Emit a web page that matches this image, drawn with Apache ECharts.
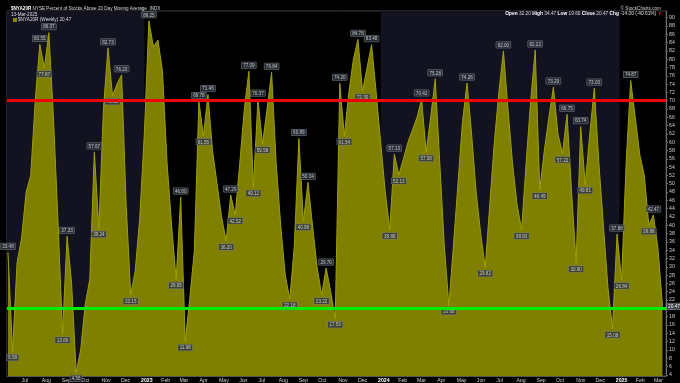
<!DOCTYPE html>
<html><head><meta charset="utf-8">
<script src="https://cdn.jsdelivr.net/npm/echarts@6/dist/echarts.min.js"></script>
<style>html,body{margin:0;padding:0;background:#000;}#c{width:680px;height:383px;}</style>
</head><body><div id="c"></div>
<script>
// ---- data ----
const firstWeek = '2022-06-10';   // weekly bars (Fridays)
const values = [
 33.48, 9.58, 31, 37, 48, 52, 70, 83.55, 77.87, 86.37,
 66, 41, 13.80, 37.33, 26, 4.56, 10, 21, 27, 57.67,
 39.24, 68, 82.73, 71.23, 74, 76.23, 45, 23.15, 29, 42,
 62, 89.25, 83, 84.6, 77, 55, 40, 26.95, 46.80, 11.98,
 22.4, 33.8, 69.78, 61.55, 71.46, 58, 50, 42, 36.20, 47.29,
 42.52, 55, 68, 77.09, 49.12, 70.37, 59.58, 68, 76.84, 55,
 40, 28, 22.18, 35, 60.89, 40.98, 50.34, 40, 30, 23.22,
 29.70, 24, 17.50, 74.20, 61.54, 72, 80, 84.78, 72.30, 78,
 83.48, 72, 60, 48, 38.88, 57.13, 52.13, 56, 60, 63,
 66, 70.42, 57.58, 66, 75.28, 55, 35, 20.68, 35, 50,
 65, 74.26, 62, 48, 38, 29.82, 45, 60, 72, 82.00,
 68, 55, 45, 38.83, 55, 70, 82.22, 48.49, 58, 66,
 73.29, 62, 57.22, 66.75, 48, 30.90, 63.74, 49.81, 62, 73.03,
 55, 40, 25, 15.08, 37.88, 26.84, 55, 74.87, 66, 57,
 52, 39.98, 42.47, 34.47, 20.47
];
const yTicks = [4,6,8,10,12,14,16,18,20,22,24,26,28,30,32,34,36,38,40,42,44,46,48,50,52,54,56,58,60,62,64,66,68,70,72,74,76,78,80,82,84,86,88,90];
const overbought = 70, oversold = 20;
const monthNames = ['Jan','Feb','Mar','Apr','May','Jun','Jul','Aug','Sep','Oct','Nov','Dec'];
const quote = {open:'32.20', high:'34.47', low:'19.60', close:'20.47', chg:'-14.00', pct:'-40.61%'};
const titleText = 'NYSE Percent of Stocks Above 20 Day Moving Average  INDX';
const symbolName = '$NYA20R';
const dateText = '13-Mar-2025';
const credit = '© StockCharts.com';

// ---- derived ----
const DAY = 86400000;
const t0 = Date.parse(firstWeek + 'T00:00:00Z');
const dates = values.map((v,i)=> t0 + i*7*DAY);
const tLast = dates[dates.length-1];
const lastVal = values[values.length-1];
const xMin = t0 - 1.5*DAY, xMax = tLast + 5.4*DAY;
const monthStarts = [];
{
  let d = new Date(t0); let y = d.getUTCFullYear(), m = d.getUTCMonth()+1;
  while (true) { const t = Date.UTC(y,m,1); if (t > tLast) break; monthStarts.push(t); m++; if (m>11){m=0;y++;} }
}
function firstBarOfYear(y){ return dates.find(t => new Date(t).getUTCFullYear() === y); }
const shade = [
  [{xAxis:xMin},{xAxis:firstBarOfYear(2023)}],
  [{xAxis:firstBarOfYear(2024)},{xAxis:firstBarOfYear(2025) + 4*DAY}]
];
// annotate swing highs / lows (ignore tiny wiggles)
const peaks = [], troughs = [];
values.forEach((v,i)=>{
  if (i===values.length-1) return;
  const p = i>0 ? values[i-1] : null, n = values[i+1];
  const dp = p===null ? Infinity : Math.abs(v-p), dn = Math.abs(v-n);
  if (Math.min(dp,dn) < 2) return;
  const hi = (p===null||v>p) && v>n;
  const lo = (p===null||v<p) && v<n;
  if (hi) peaks.push([dates[i], v]);
  else if (lo) troughs.push([dates[i], v]);
});
const lblBase = {show:true, fontSize:4.6, color:'#e6e6e6', backgroundColor:'#2d333c', borderColor:'#7d838b', borderWidth:0.5, padding:[1,1.5,0,1.5], fontFamily:'Liberation Sans, Arial'};

const chart = echarts.init(document.getElementById('c'), null, {renderer:'canvas'});
chart.setOption({
  useUTC: true,
  animation: false,
  backgroundColor: '#000',
  textStyle: {fontFamily: 'Liberation Sans, Arial'},
  title: [{
    left: 6, top: 1,
    text: '{b|' + symbolName + '} ' + titleText + '\n' + dateText,
    textStyle: {fontSize: 4.6, color: '#dcdcdc', lineHeight: 5.5, fontWeight: 'normal',
      rich: {b: {fontWeight: 'bold', fontSize: 4.6, color: '#fff'}}}
  }, {
    right: 14, top: 1,
    text: credit,
    textStyle: {fontSize: 4.7, color: '#cfcfcf', fontWeight: 'normal'}
  }, {
    right: 13, top: 6.5,
    text: '{k|Open} ' + quote.open + ' {k|High} ' + quote.high + ' {k|Low} ' + quote.low +
          ' {k|Close} ' + quote.close + ' {k|Chg} ' + quote.chg + ' (' + quote.pct + ') {r|▼}',
    textStyle: {fontSize: 4.8, color: '#dcdcdc', fontWeight: 'normal',
      rich: {k: {fontWeight: 'bold', fontSize: 4.8, color: '#fff'}, r: {color: '#e00', fontSize: 4.5}}}
  }],
  legend: {
    left: 8, top: 12.5, itemWidth: 4, itemHeight: 4, icon: 'rect', itemGap: 2,
    data: [symbolName + ' (Weekly)'],
    formatter: n => n + ' ' + lastVal.toFixed(2),
    textStyle: {fontSize: 4.7, color: '#dcdcdc', padding: [0,0,0,-4]}
  },
  grid: {left: 7, right: 14, top: 11, bottom: 7, show: true, borderColor: '#3c4048', borderWidth: 1, backgroundColor: '#000'},
  xAxis: {
    type: 'value', min: xMin, max: xMax,
    axisLine: {show: true, lineStyle: {color: '#555'}},
    axisTick: {show: false},
    splitLine: {show: false},
    axisLabel: {
      customValues: monthStarts, align: 'left', fontSize: 5.2, color: '#cfcfcf', margin: 2,
      formatter: v => { const d = new Date(v); const m = d.getUTCMonth(); return m === 0 ? '{y|' + d.getUTCFullYear() + '}' : monthNames[m]; },
      rich: {y: {fontWeight: 'bold', fontSize: 5.2, color: '#fff'}}
    }
  },
  yAxis: {
    type: 'value', position: 'right', min: 3.7, max: 91.6,
    axisLine: {show: true, lineStyle: {color: '#6a6f78'}},
    axisTick: {show: true, customValues: yTicks, length: 2, lineStyle: {color: '#6a6f78'}},
    splitLine: {show: false},
    axisLabel: {customValues: yTicks, fontSize: 5.2, color: '#cfcfcf', margin: 3}
  },
  series: [
    { // year shading
      type: 'line', data: [], z: 1, silent: true,
      markArea: {silent: true, itemStyle: {color: '#121221'}, data: shade}
    },
    {
      name: symbolName + ' (Weekly)', type: 'line', z: 2,
      data: dates.map((t,i)=>[t, values[i]]),
      symbol: 'none', color: '#8a8a00',
      lineStyle: {color: '#a0a000', width: 1},
      areaStyle: {color: '#7f7f00', opacity: 1}
    },
    { // reference lines + last value tag
      type: 'line', data: [], z: 3, silent: true,
      markLine: {silent: true, symbol: 'none',
        data: [
          {yAxis: overbought, label: {show: false}, lineStyle: {color: '#ee0000', width: 3, type: 'solid'}},
          {yAxis: oversold, label: {show: false}, lineStyle: {color: '#00ee00', width: 3, type: 'solid'}},
          {yAxis: lastVal, lineStyle: {color: 'rgba(0,0,0,0)', width: 0},
           label: {show: true, position: 'end', distance: 1, fontSize: 4.8, color: '#fff', backgroundColor: '#3a3f47', borderColor: '#9a9ea6', borderWidth: 0.5, padding: [1,1,0,1],
             formatter: lastVal.toFixed(2)}}
        ]}
    },
    {type: 'scatter', z: 4, data: peaks, symbolSize: 2, itemStyle: {color: 'rgba(0,0,0,0)'},
     label: Object.assign({position: 'top', distance: 2, formatter: p => p.value[1].toFixed(2)}, lblBase)},
    {type: 'scatter', z: 4, data: troughs, symbolSize: 2, itemStyle: {color: 'rgba(0,0,0,0)'},
     label: Object.assign({position: 'bottom', distance: 2, formatter: p => p.value[1].toFixed(2)}, lblBase)}
  ]
});
</script></body></html>
